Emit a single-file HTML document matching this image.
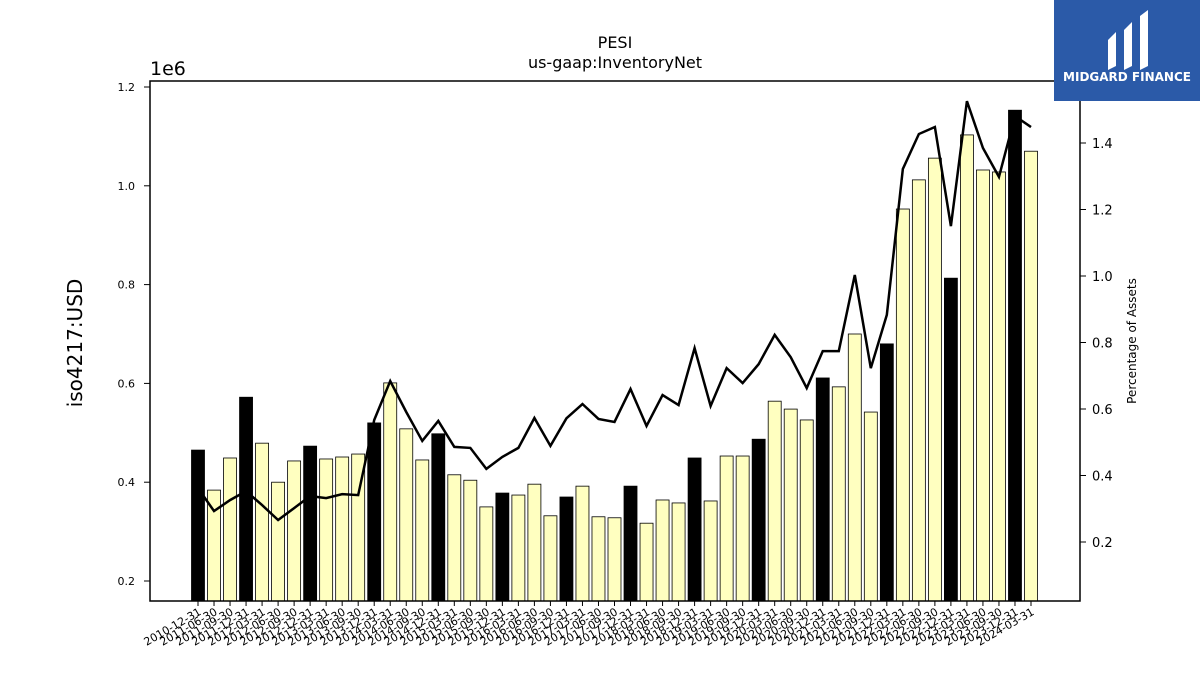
<!DOCTYPE html>
<html><head><meta charset="utf-8"><style>
body{margin:0;background:#fff;font-family:"Liberation Sans","DejaVu Sans",sans-serif}
</style></head><body>
<svg id="chart" width="1200" height="675" xmlns="http://www.w3.org/2000/svg" font-family="DejaVu Sans, Liberation Sans, sans-serif">
<text x="615" y="48" font-size="16" text-anchor="middle">PESI</text>
<text x="615" y="68" font-size="16" text-anchor="middle">us-gaap:InventoryNet</text>
<text x="150" y="75" font-size="19">1e6</text>
<text transform="translate(82,343) rotate(-90)" font-size="20" text-anchor="middle">iso4217:USD</text>
<text transform="translate(1136,341) rotate(-90)" font-size="12" text-anchor="middle">Percentage of Assets</text>
<g id="bars"></g><g id="line"></g><g id="axes"></g>
<rect x="150" y="81" width="930" height="520" fill="none" stroke="#000" stroke-width="1.5"/>
<g>
<rect x="1054" y="0" width="146" height="101" fill="#2b5aa8"/>
<path d="M1108 40 L1116 32 L1116 66 L1108 70 Z M1124 30 L1132 22 L1132 66 L1124 70 Z M1140 16 L1148 10 L1148 66 L1140 70 Z" fill="#fff"/>
<text x="1127" y="81" font-size="12" font-weight="bold" fill="#fff" text-anchor="middle">MIDGARD FINANCE</text>
</g>
</svg>
<script>
const dates=["2010-12-31","2011-06-30","2011-09-30","2011-12-31","2012-03-31","2012-06-30","2012-09-30","2012-12-31","2013-03-31","2013-06-30","2013-09-30","2013-12-31","2014-03-31","2014-06-30","2014-09-30","2014-12-31","2015-03-31","2015-06-30","2015-09-30","2015-12-31","2016-03-31","2016-06-30","2016-09-30","2016-12-31","2017-03-31","2017-06-30","2017-09-30","2017-12-31","2018-03-31","2018-06-30","2018-09-30","2018-12-31","2019-03-31","2019-06-30","2019-09-30","2019-12-31","2020-03-31","2020-06-30","2020-09-30","2020-12-31","2021-03-31","2021-06-30","2021-09-30","2021-12-31","2022-03-31","2022-06-30","2022-09-30","2022-12-31","2023-03-31","2023-06-30","2023-09-30","2023-12-31","2024-03-31"];
const inventory=[0.465,0.384,0.449,0.572,0.479,0.400,0.443,0.473,0.447,0.451,0.457,0.520,0.601,0.508,0.445,0.498,0.415,0.404,0.350,0.378,0.374,0.396,0.332,0.370,0.392,0.330,0.328,0.392,0.317,0.364,0.358,0.449,0.362,0.453,0.453,0.487,0.564,0.548,0.526,0.611,0.593,0.700,0.542,0.680,0.953,1.012,1.056,0.813,1.103,1.032,1.028,1.153,1.070];
const pctAssets=[0.362,0.293,0.326,0.353,0.311,0.266,0.302,0.338,0.332,0.344,0.341,0.567,0.684,0.591,0.504,0.564,0.486,0.483,0.420,0.456,0.483,0.573,0.489,0.572,0.615,0.570,0.561,0.660,0.549,0.642,0.612,0.783,0.609,0.723,0.678,0.735,0.823,0.756,0.663,0.774,0.774,1.003,0.723,0.883,1.322,1.427,1.448,1.150,1.526,1.385,1.298,1.481,1.448];
const leftTicks=[0.2,0.4,0.6,0.8,1.0,1.2];
const rightTicks=[0.2,0.4,0.6,0.8,1.0,1.2,1.4];
const NS="http://www.w3.org/2000/svg";
const x=i=>198+i*(1031-198)/(dates.length-1);
const yL=v=>581-(v-0.2)*494;
const yR=v=>276-(v-1.0)*332.5;
function mk(t,a,p){const e=document.createElementNS(NS,t);for(const k in a)e.setAttribute(k,a[k]);p.appendChild(e);return e;}
const bars=document.getElementById('bars'),line=document.getElementById('line'),axes=document.getElementById('axes');
dates.forEach((d,i)=>{
 const dark=d.endsWith("12-31");
 const r=mk('rect',{x:x(i)-6.5,y:yL(inventory[i]),width:13,height:601-yL(inventory[i]),fill:dark?'#000':'#ffffc0',stroke:'#000','stroke-width':0.8},bars);
 
 
 const tk=mk('line',{x1:x(i),x2:x(i),y1:601,y2:606,stroke:'#000'},axes);
 
 
 const t=mk('text',{transform:`translate(${x(i)+4},${614}) rotate(-30)`,'font-size':11,'text-anchor':'end'},axes);
 t.textContent=d;
 
 
});
const pl=mk('polyline',{points:pctAssets.map((v,i)=>x(i)+','+yR(v)).join(' '),fill:'none',stroke:'#000','stroke-width':2.5},line);


leftTicks.forEach(v=>{
 const l=mk('line',{x1:144,x2:150,y1:yL(v),y2:yL(v),stroke:'#000'},axes);
 
 
 const t=mk('text',{x:135,y:yL(v)+4,'font-size':11,'text-anchor':'end'},axes);
 t.textContent=v.toFixed(1);
 
 
});
rightTicks.forEach(v=>{
 const l=mk('line',{x1:1080,x2:1086,y1:yR(v),y2:yR(v),stroke:'#000'},axes);
 
 
 const t=mk('text',{x:1092,y:yR(v)+5,'font-size':13},axes);
 t.textContent=v.toFixed(1);
 
 
});
</script>
</body></html>
